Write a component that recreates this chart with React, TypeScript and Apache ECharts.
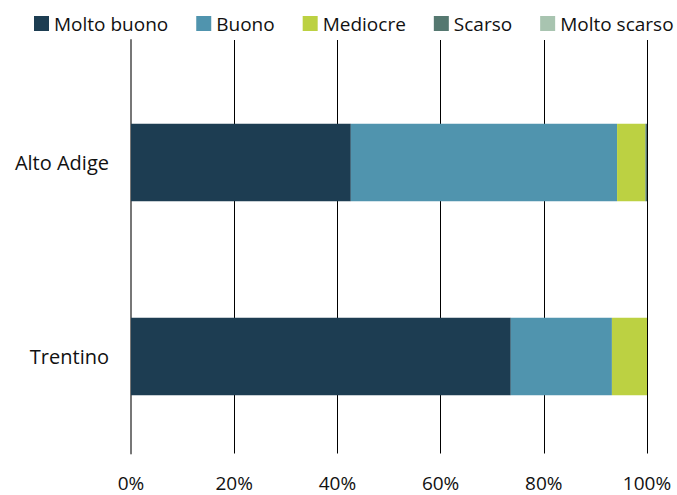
import React, { useEffect, useRef } from "react";
import * as echarts from "echarts";

const categories = ["Alto Adige", "Trentino"];
const seriesNames = ["Molto buono", "Buono", "Mediocre", "Scarso", "Molto scarso"];
const molto_buono = [42.6, 73.6];
const buono = [51.6, 19.6];
const mediocre = [5.5, 6.8];
const scarso = [0.3, 0];
const molto_scarso = [0, 0];
const colors = ["#1d3d52", "#5094ae", "#bcd142", "#557870", "#a8c4b0"];

const FONT = "Open Sans";

export default function App() {
  const ref = useRef<HTMLDivElement>(null);
  useEffect(() => {
    const chart = echarts.init(ref.current!, null, { renderer: "svg" });
    const values = [molto_buono, buono, mediocre, scarso, molto_scarso];
    chart.setOption({
      animation: false,
      color: colors,
      textStyle: { fontFamily: FONT },
      legend: {
        data: seriesNames,
        top: 14,
        left: 34,
        width: 643,
        padding: 0,
        itemWidth: 15,
        itemHeight: 15,
        itemGap: 28,
        icon: "rect",
        textStyle: { fontFamily: FONT, fontSize: 19, color: "#111" },
      },
      grid: [
        { left: 131, right: 30, top: 65.5, bottom: 41.5 },
        { left: 131, right: 30, top: 40, bottom: 41.5 },
      ],
      xAxis: [
        {
          gridIndex: 0,
          type: "value",
          min: 0,
          max: 100,
          interval: 20,
          show: false,
        },
        {
          gridIndex: 1,
          type: "value",
          min: 0,
          max: 100,
          interval: 20,
          axisLine: { show: false },
          axisTick: { show: false },
          splitLine: { show: true, lineStyle: { color: "#000", width: 1 } },
          axisLabel: {
            formatter: "{value}%",
            fontFamily: FONT,
            fontSize: 19,
            color: "#111",
            margin: 20,
          },
        },
      ],
      yAxis: [
        {
          gridIndex: 0,
          type: "category",
          data: categories,
          inverse: true,
          axisLine: { show: false },
          axisTick: { show: false },
          axisLabel: { fontFamily: FONT, fontSize: 20, color: "#111", margin: 22 },
        },
        {
          gridIndex: 1,
          type: "value",
          min: 0,
          max: 1,
          axisLine: { show: true, lineStyle: { color: "#777", width: 2 } },
          axisTick: { show: false },
          axisLabel: { show: false },
          splitLine: { show: false },
        },
      ],
      series: seriesNames.map((name, i) => ({
        name,
        type: "bar",
        stack: "total",
        xAxisIndex: 0,
        yAxisIndex: 0,
        barWidth: "40%",
        data: values[i],
        itemStyle: { color: colors[i] },
        z: 3,
      })),
    });
    return () => chart.dispose();
  }, []);
  return <div ref={ref} style={{ width: 677, height: 495, position: "absolute", left: 0, top: 0 }} />;
}
